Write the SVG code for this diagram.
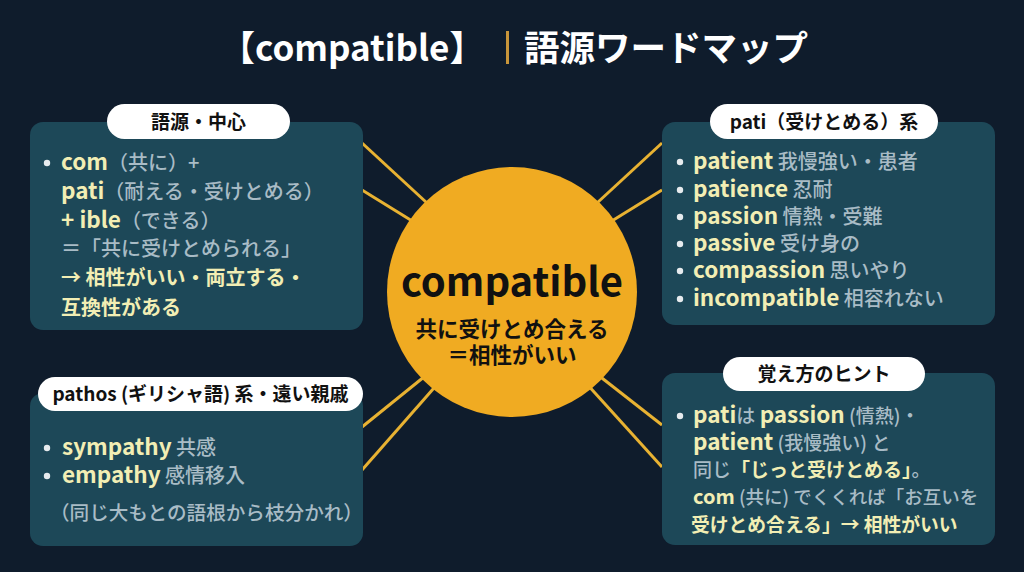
<svg xmlns="http://www.w3.org/2000/svg" width="1024" height="572" viewBox="0 0 1024 572">
<defs>
<style>
text{font-family:"Noto Sans CJK JP","Noto Sans",sans-serif}
.title{font-size:35px;font-weight:700;fill:#ffffff}
.panel{fill:#1d4858}
.tab{fill:#ffffff}
.tabt{font-size:19px;font-weight:700;fill:#111111}
.en{font-size:22.5px;font-weight:700;fill:#f2eeb4}
.ja{font-size:20px;font-weight:500;fill:#a9bcc6}
.jy{font-size:20px;font-weight:700;fill:#f2eeb4}
.bul{fill:#e6ebee}
.ray{stroke:#e8b232;stroke-width:3;fill:none}
.ct1{font-size:40px;font-weight:700;fill:#111111}
.ct2{font-size:21.5px;font-weight:700;fill:#111111}
</style>
</defs>
<rect width="1024" height="572" fill="#0f1c2c"/>
<g id="title">
<text class="title" x="220" y="61">【compatible】</text>
<rect x="506" y="31" width="3" height="33" fill="#c8953a"/>
<text class="title" x="524" y="61" style="font-size:35.5px">語源ワードマップ</text>
</g>
<g id="connectors">
<line class="ray" x1="362" y1="143" x2="440" y2="215"/>
<line class="ray" x1="362" y1="190" x2="430" y2="232"/>
<line class="ray" x1="662" y1="143" x2="584" y2="215"/>
<line class="ray" x1="662" y1="190" x2="594" y2="232"/>
<line class="ray" x1="362" y1="427" x2="440" y2="364"/>
<line class="ray" x1="362" y1="470" x2="448" y2="372"/>
<line class="ray" x1="662" y1="425" x2="584" y2="364"/>
<line class="ray" x1="662" y1="467" x2="576" y2="372"/>
</g>
<g id="center">
<circle cx="512" cy="292" r="125" fill="#f0ab22"/>
<text class="ct1" x="512" y="296" text-anchor="middle">compatible</text>
<text class="ct2" x="512" y="337" text-anchor="middle">共に受けとめ合える</text>
<text class="ct2" x="512" y="363" text-anchor="middle">＝相性がいい</text>
</g>
<g id="origin">
<rect class="panel" x="30" y="122" width="333" height="208" rx="13"/>
<rect class="tab" x="107" y="104" width="183" height="35" rx="17.5"/>
<text class="tabt" x="198.5" y="129" text-anchor="middle">語源・中心</text>
<circle class="bul" cx="47" cy="163" r="3.2"/>
<text x="61" y="170"><tspan class="en">com</tspan><tspan class="ja">（共に）+</tspan></text>
<text x="61" y="199"><tspan class="en">pati</tspan><tspan class="ja">（耐える・受けとめる）</tspan></text>
<text x="61" y="228"><tspan class="en">+ ible</tspan><tspan class="ja">（できる）</tspan></text>
<text class="ja" x="61" y="256">＝「共に受けとめられる」</text>
<text class="jy" x="61" y="285">→ 相性がいい・両立する・</text>
<text class="jy" x="61" y="315">互換性がある</text>
</g>
<g id="pati">
<rect class="panel" x="662" y="122" width="333" height="203" rx="13"/>
<rect class="tab" x="710" y="104" width="228" height="35" rx="17.5"/>
<text class="tabt" x="824" y="129" text-anchor="middle">pati（受けとめる）系</text>
<circle class="bul" cx="680" cy="162" r="3.2"/>
<circle class="bul" cx="680" cy="190" r="3.2"/>
<circle class="bul" cx="680" cy="217" r="3.2"/>
<circle class="bul" cx="680" cy="244" r="3.2"/>
<circle class="bul" cx="680" cy="271" r="3.2"/>
<circle class="bul" cx="680" cy="299" r="3.2"/>
<text x="693" y="169"><tspan class="en">patient</tspan><tspan class="ja"> 我慢強い・患者</tspan></text>
<text x="693" y="197"><tspan class="en">patience</tspan><tspan class="ja"> 忍耐</tspan></text>
<text x="693" y="224"><tspan class="en">passion</tspan><tspan class="ja"> 情熱・受難</tspan></text>
<text x="693" y="251"><tspan class="en">passive</tspan><tspan class="ja"> 受け身の</tspan></text>
<text x="693" y="278"><tspan class="en">compassion</tspan><tspan class="ja"> 思いやり</tspan></text>
<text x="693" y="306"><tspan class="en">incompatible</tspan><tspan class="ja"> 相容れない</tspan></text>
</g>
<g id="pathos">
<rect class="panel" x="30" y="393" width="333" height="153" rx="13"/>
<rect class="tab" x="38" y="377" width="325" height="34" rx="17"/>
<text class="tabt" x="200.5" y="401" text-anchor="middle">pathos (ギリシャ語) 系・遠い親戚</text>
<circle class="bul" cx="47" cy="448" r="3.2"/>
<circle class="bul" cx="47" cy="476" r="3.2"/>
<text x="62" y="455"><tspan class="en">sympathy</tspan><tspan class="ja"> 共感</tspan></text>
<text x="62" y="483"><tspan class="en">empathy</tspan><tspan class="ja"> 感情移入</tspan></text>
<text class="ja" x="50" y="520" style="font-size:19.6px">（同じ大もとの語根から枝分かれ）</text>
</g>
<g id="hint">
<rect class="panel" x="662" y="373" width="333" height="172" rx="13"/>
<rect class="tab" x="723" y="357" width="202" height="34" rx="17"/>
<text class="tabt" x="824" y="381" text-anchor="middle">覚え方のヒント</text>
<circle class="bul" cx="680" cy="416" r="3.2"/>
<text x="693" y="423"><tspan class="en">pati</tspan><tspan class="ja" style="font-size:19px">は </tspan><tspan class="en">passion</tspan><tspan class="ja" style="font-size:19px"> (情熱)・</tspan></text>
<text x="693" y="450"><tspan class="en">patient</tspan><tspan class="ja" style="font-size:19px"> (我慢強い) と</tspan></text>
<text x="693" y="477"><tspan class="ja" style="font-size:19px">同じ</tspan><tspan class="jy" style="font-size:19px">「じっと受けとめる」</tspan><tspan class="ja" style="font-size:19px">。</tspan></text>
<text x="693" y="504"><tspan class="en" style="font-size:20px">com</tspan><tspan class="ja" style="font-size:18.5px"> (共に) でくくれば「お互いを</tspan></text>
<text class="jy" x="691" y="532" style="font-size:18.8px">受けとめ合える」→ 相性がいい</text>
</g>
</svg>
